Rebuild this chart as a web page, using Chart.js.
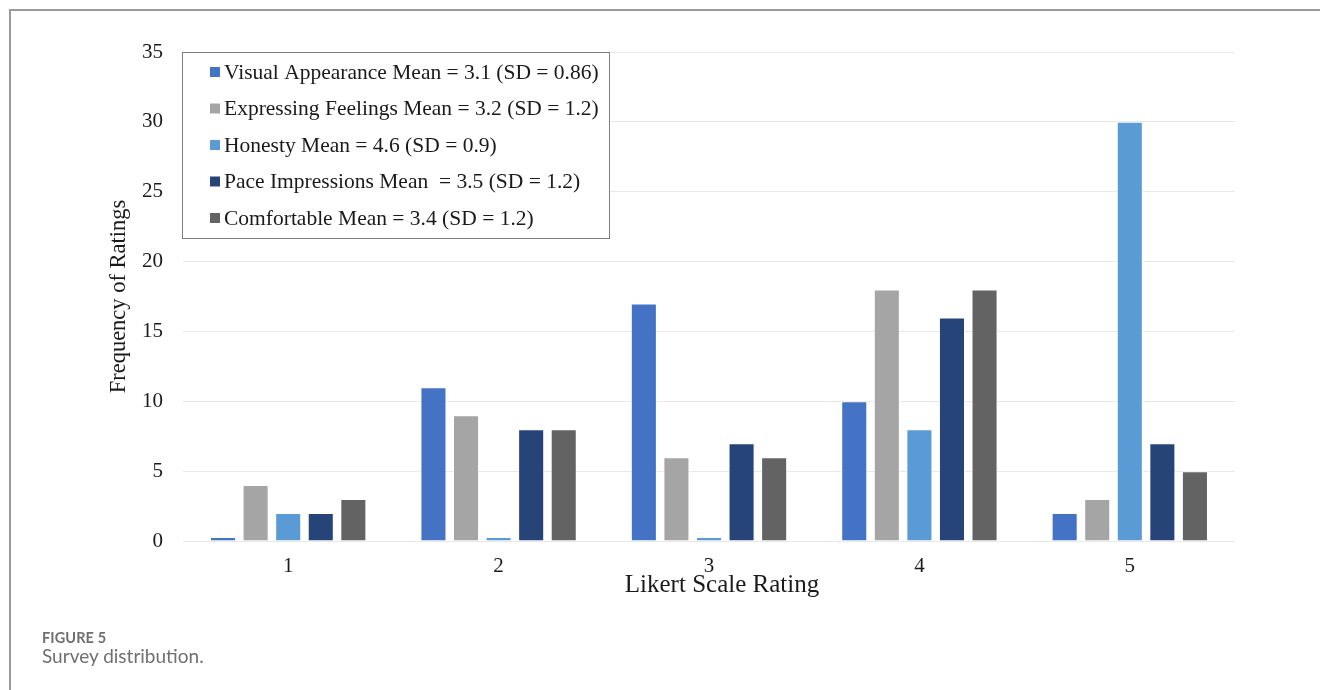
<!DOCTYPE html>
<html>
<head>
<meta charset="utf-8">
<script src="https://cdn.jsdelivr.net/npm/chart.js@4.4.1/dist/chart.umd.min.js"></script>
<style>
  html, body { margin: 0; padding: 0; background: #fff; }
  #wrap { position: relative; width: 1320px; height: 690px; overflow: hidden; }
  #frame {
    position: absolute; left: 9px; top: 9px; width: 1320px; height: 690px;
    border-left: 2px solid #9a9a9a; border-top: 2px solid #9a9a9a;
    box-sizing: border-box;
  }
  canvas { position: absolute; left: 0; top: 0; }
  .cap-label {
    position: absolute; left: 42px; top: 629px;
    font-family: Lato, "Open Sans", sans-serif; font-weight: 700;
    font-size: 14.5px; color: #6f6f6f; letter-spacing: 0.1px;
  }
  .cap-text {
    position: absolute; left: 42px; top: 644px;
    font-family: Lato, "Open Sans", sans-serif; font-weight: 400;
    font-size: 19px; color: #6f6f6f;
  }
</style>
</head>
<body>
<div id="wrap">
  <div id="frame"></div>
  <canvas id="chart" width="1320" height="690"></canvas>
  <div class="cap-label">FIGURE 5</div>
  <div class="cap-text">Survey distribution.</div>
</div>
<script>
// Likert ratings on the x axis
const ratings = ['1', '2', '3', '4', '5'];

// Frequency of each rating, one array per survey item
const visualAppearance   = [0, 11, 17, 10, 2];
const expressingFeelings = [4, 9, 6, 18, 3];
const honesty            = [2, 0, 0, 8, 30];
const paceImpressions    = [2, 8, 7, 16, 7];
const comfortable        = [3, 8, 6, 18, 5];

// Legend labels
const seriesLabels = [
  'Visual Appearance Mean = 3.1 (SD = 0.86)',
  'Expressing Feelings Mean = 3.2 (SD = 1.2)',
  'Honesty Mean = 4.6 (SD = 0.9)',
  'Pace Impressions Mean  = 3.5 (SD = 1.2)',
  'Comfortable Mean = 3.4 (SD = 1.2)'
];

// Axis titles
const xTitle = 'Likert Scale Rating';
const yTitle = 'Frequency of Ratings';

// Y axis range
const yMin = 0, yMax = 35, yStep = 5;

const seriesColors = ['#4472C4', '#A5A5A5', '#5B9BD5', '#264478', '#636363'];
const seriesValues = [visualAppearance, expressingFeelings, honesty, paceImpressions, comfortable];

const serif = '"Liberation Serif", "Times New Roman", serif';

// Boxed legend inside the top-left corner of the plot area, plus the x axis title
const chartDecor = {
  id: 'chartDecor',
  afterDraw(chart) {
    const ctx = chart.ctx;
    const area = chart.chartArea;
    const x = area.left - 1, y = area.top, w = 427, h = 186;
    ctx.save();
    ctx.fillStyle = '#ffffff';
    ctx.fillRect(x, y, w, h);
    ctx.strokeStyle = '#7f7f7f';
    ctx.lineWidth = 1;
    ctx.strokeRect(x + 0.5, y + 0.5, w, h);
    ctx.font = '21.5px ' + serif;
    ctx.textBaseline = 'middle';
    ctx.textAlign = 'left';
    chart.data.datasets.forEach((ds, i) => {
      const cy = y + 20 + i * 36.5;
      ctx.fillStyle = ds.backgroundColor;
      ctx.fillRect(x + 28, cy - 5, 10, 10);
      ctx.fillStyle = '#1a1a1a';
      ctx.fillText(ds.label, x + 42, cy + 1);
    });

    // x axis title, set slightly right of the plot centre
    ctx.font = '25px ' + serif;
    ctx.textAlign = 'center';
    ctx.fillStyle = '#1a1a1a';
    ctx.fillText(xTitle, (area.left + area.right) / 2 + 13, area.bottom + 44);
    ctx.restore();
  }
};

new Chart(document.getElementById('chart'), {
  type: 'bar',
  data: {
    labels: ratings,
    datasets: seriesValues.map((vals, i) => ({
      label: seriesLabels[i],
      data: vals,
      backgroundColor: seriesColors[i],
      borderColor: 'rgba(255,255,255,0.6)',
      borderWidth: 1,
      minBarLength: 4,
      categoryPercentage: 0.774,
      barPercentage: 0.8
    }))
  },
  options: {
    responsive: false,
    animation: false,
    devicePixelRatio: 1,
    layout: { padding: { left: 0, top: 52, right: 85, bottom: 79 } },
    plugins: {
      legend: { display: false },
      tooltip: { enabled: false }
    },
    scales: {
      x: {
        grid: { display: false, drawTicks: false },
        border: { display: false },
        ticks: { color: '#1a1a1a', font: { family: serif, size: 21 }, padding: 13 },
        afterFit(scale) { scale.height = 70; }
      },
      y: {
        min: yMin, max: yMax,
        grid: { color: '#e8e8e8', lineWidth: 1, drawTicks: false },
        border: { display: false },
        ticks: { stepSize: yStep, color: '#1a1a1a', font: { family: serif, size: 21 }, padding: 20 },
        title: {
          display: true, text: yTitle, color: '#1a1a1a',
          font: { family: serif, size: 22.5 }, padding: { top: 105.5, bottom: 0 }
        },
        afterFit(scale) { scale.width = 183; }
      }
    }
  },
  plugins: [chartDecor]
});
</script>
</body>
</html>
